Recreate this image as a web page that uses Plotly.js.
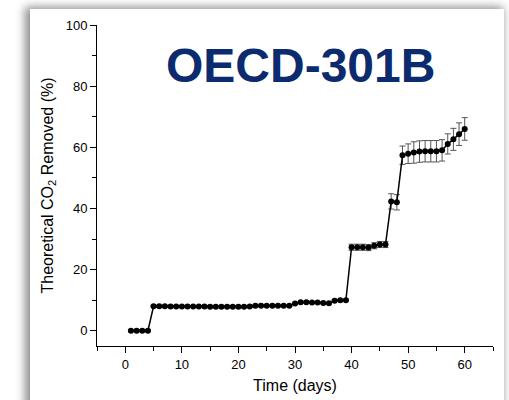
<!DOCTYPE html>
<html>
<head>
<meta charset="utf-8">
<script src="https://cdn.plot.ly/plotly-3.0.1.min.js"></script>
<style>
  html, body { margin:0; padding:0; background:#ffffff; width:509px; height:400px; overflow:hidden; }
  #card { position:absolute; left:30px; top:9px; width:474px; height:420px; background:#ffffff;
          box-shadow: -3px 0 9px 2px rgba(0,0,0,0.45); }
  #chart { position:absolute; left:0; top:0; width:509px; height:400px; }
</style>
</head>
<body>
<div id="card"></div>
<div id="chart"></div>
<script>
const days = [1,2,3,4,5,6,7,8,9,10,11,12,13,14,15,16,17,18,19,20,
              21,22,23,24,25,26,27,28,29,30,31,32,33,34,35,36,37,38,39,40,
              41,42,43,44,45,46,47,48,49,50,51,52,53,54,55,56,57,58,59,60];
const co2Removed = [0,0,0,0,8.0,8.0,8.0,7.9,7.9,7.9,7.9,7.9,7.9,7.9,7.8,7.8,7.8,7.8,7.8,7.8,
                    7.8,7.9,8.2,8.2,8.2,8.2,8.2,8.2,8.2,8.9,9.3,9.3,9.2,9.2,9.1,9.0,9.8,10.0,10.0,27.3,
                    27.3,27.3,27.2,27.8,28.2,28.2,42.3,42.0,57.4,57.9,58.3,58.6,58.7,58.7,58.7,59.0,61.1,62.6,64.3,66.0];
const co2Error = [0.3,0.3,0.3,0.3,0.3,0.3,0.3,0.3,0.3,0.3,0.3,0.3,0.3,0.3,0.3,0.3,0.3,0.3,0.3,0.3,
                  0.3,0.3,0.3,0.3,0.3,0.3,0.3,0.3,0.3,0.3,0.3,0.3,0.3,0.3,0.3,0.3,0.3,0.3,0.3,1.0,
                  1.0,1.0,1.0,1.0,1.0,1.0,2.5,2.5,3.0,3.2,3.5,3.5,3.5,3.5,3.5,3.5,3.3,3.6,3.7,3.7];
const xTicks = [0,10,20,30,40,50,60];
const yTicks = [0,20,40,60,80,100];
const titleText = "OECD-301B";

const trace = {
  x: days, y: co2Removed, type: 'scatter', mode: 'lines+markers',
  line: {color:'#000000', width:1.5},
  marker: {color:'#000000', size:6, symbol:'circle'},
  error_y: {type:'data', array: co2Error, visible:true, color:'#555555', thickness:1, width:3},
  showlegend:false, hoverinfo:'skip'
};

const axisFont = {family:'Arial, "Liberation Sans", sans-serif', size:13, color:'#000000'};
const layout = {
  width:509, height:400,
  margin:{l:97, r:16, t:25, b:54},
  paper_bgcolor:'rgba(0,0,0,0)', plot_bgcolor:'rgba(0,0,0,0)',
  font: axisFont,
  xaxis:{
    range:[-5,65], tickmode:'array', tickvals:xTicks, ticktext:xTicks.map(String),
    showgrid:false, zeroline:false, showline:true, linecolor:'#000', linewidth:1,
    ticks:'outside', ticklen:6, tickwidth:1, tickcolor:'#000',
    minor:{dtick:5, tick0:0, ticks:'outside', ticklen:4, tickcolor:'#000', tickwidth:1, showgrid:false},
    tickfont: axisFont,
    title:{text:'Time (days)', font:{family:'Arial, "Liberation Sans", sans-serif', size:16, color:'#000'}, standoff:9}
  },
  yaxis:{
    range:[-5,100], tickmode:'array', tickvals:yTicks, ticktext:yTicks.map(String),
    showgrid:false, zeroline:false, showline:true, linecolor:'#000', linewidth:1,
    ticks:'outside', ticklen:6, tickwidth:1, tickcolor:'#000',
    minor:{dtick:10, tick0:0, ticks:'outside', ticklen:4, tickcolor:'#000', tickwidth:1, showgrid:false},
    tickfont: axisFont,
    title:{text:'Theoretical CO<sub>2</sub> Removed (%)', font:{family:'Arial, "Liberation Sans", sans-serif', size:16, color:'#000'}, standoff:8}
  },
  annotations:[{
    text:'<b>'+titleText+'</b>', xref:'paper', yref:'paper', x:0.513, y:0.875,
    xanchor:'center', yanchor:'middle', showarrow:false,
    font:{family:'Arial, "Liberation Sans", sans-serif', size:48, color:'#0b2b6e'}
  }]
};

Plotly.newPlot('chart', [trace], layout, {displayModeBar:false, staticPlot:true});
</script>
</body>
</html>
